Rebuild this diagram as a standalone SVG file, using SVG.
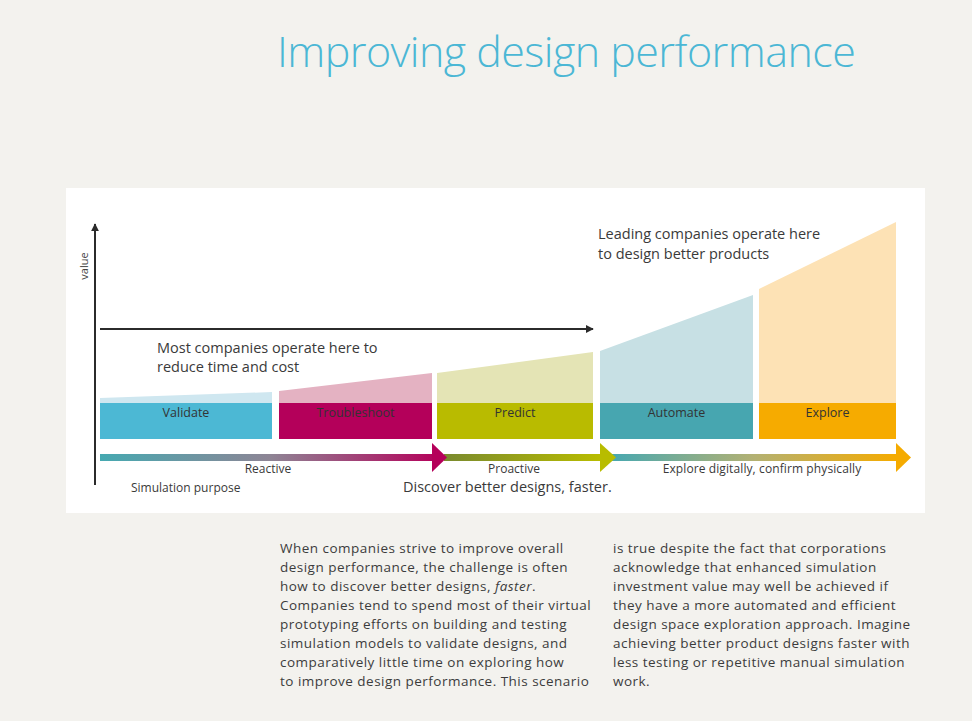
<svg xmlns="http://www.w3.org/2000/svg" width="972" height="721" viewBox="0 0 972 721">
<defs>
<style>
.t{font-family:"Open Sans","Noto Sans","Liberation Sans",sans-serif;fill:#3a3a3a}
.lbl{font-size:12.5px;text-anchor:middle;fill:#333}
.note{font-size:14.5px}
.sm{font-size:12px}
.body{font-size:13.5px;fill:#3c3c3c;letter-spacing:0.48px}
</style>
<linearGradient id="g1" gradientUnits="userSpaceOnUse" x1="100" y1="0" x2="440" y2="0">
<stop offset="0" stop-color="#46a9b1"/><stop offset="0.5" stop-color="#8e8595"/><stop offset="1" stop-color="#b5005a"/>
</linearGradient>
<linearGradient id="g2" gradientUnits="userSpaceOnUse" x1="445" y1="0" x2="600" y2="0">
<stop offset="0" stop-color="#7a8a2e"/><stop offset="1" stop-color="#b8bc00"/>
</linearGradient>
<linearGradient id="g3" gradientUnits="userSpaceOnUse" x1="612" y1="0" x2="896" y2="0">
<stop offset="0" stop-color="#48a8b0"/><stop offset="0.5" stop-color="#b3b173"/><stop offset="1" stop-color="#f5ab00"/>
</linearGradient>
<marker id="ah" viewBox="0 0 10 10" refX="9" refY="5" markerWidth="4" markerHeight="5" orient="auto" markerUnits="strokeWidth">
<path d="M0,0 L10,5 L0,10 Z" fill="#2b2b2b"/>
</marker>
</defs>
<rect width="972" height="721" fill="#f3f2ee"/>
<text class="t" x="277" y="67" style="font-size:43px;font-weight:300;fill:#4bb7d5;letter-spacing:-0.55px">Improving design performance</text>
<rect x="66" y="188" width="859" height="325" fill="#ffffff"/>

<g id="axis">
<line x1="95" y1="485" x2="95" y2="224" stroke="#2b2b2b" stroke-width="2" marker-end="url(#ah)"/>
<text class="t" transform="translate(88,266) rotate(-90)" style="font-size:11px;text-anchor:middle;fill:#444">value</text>
</g>

<g id="validate">
<polygon points="100,398 272,392 272,403 100,403" fill="#cfe7f0"/>
<rect x="100" y="403" width="172" height="36" fill="#4cb8d4"/>
<text class="t lbl" x="186" y="417">Validate</text>
</g>
<g id="troubleshoot">
<polygon points="279,391 432,373 432,403 279,403" fill="#e4b2c2"/>
<rect x="279" y="403" width="153" height="36" fill="#b4005a"/>
<text class="t lbl" x="355.5" y="417">Troubleshoot</text>
</g>
<g id="predict">
<polygon points="437,373 593,352 593,403 437,403" fill="#e4e4b5"/>
<rect x="437" y="403" width="156" height="36" fill="#b9bb00"/>
<text class="t lbl" x="515" y="417">Predict</text>
</g>
<g id="automate">
<polygon points="600,351 753,295 753,403 600,403" fill="#c7e0e4"/>
<rect x="600" y="403" width="153" height="36" fill="#47a6b0"/>
<text class="t lbl" x="676.5" y="417">Automate</text>
</g>
<g id="explore">
<polygon points="759,289 896,222 896,403 759,403" fill="#fde2b5"/>
<rect x="759" y="403" width="137" height="36" fill="#f6ab00"/>
<text class="t lbl" x="827.5" y="417">Explore</text>
</g>

<g id="connectors">
<line x1="100" y1="329" x2="593" y2="329" stroke="#2b2b2b" stroke-width="2" marker-end="url(#ah)"/>
<g id="flow3">
<rect x="612" y="454" width="285" height="7" fill="url(#g3)"/>
<polygon points="896,443 911,457.5 896,472" fill="#f5ab00"/>
</g>
<g id="flow2">
<rect x="444" y="454" width="157" height="7" fill="url(#g2)"/>
<polygon points="600,443 616,457.5 600,472" fill="#b8bc00"/>
</g>
<g id="flow1">
<rect x="100" y="454" width="333" height="7" fill="url(#g1)"/>
<polygon points="432,443 447,457.5 432,472" fill="#b5005a"/>
</g>
</g>

<g id="notes">
<text class="t note" x="157" y="353">Most companies operate here to</text>
<text class="t note" x="157" y="372">reduce time and cost</text>
<text class="t note" x="598" y="239">Leading companies operate here</text>
<text class="t note" x="598" y="259">to design better products</text>
<text class="t sm" x="268" y="473" text-anchor="middle">Reactive</text>
<text class="t sm" x="514" y="473" text-anchor="middle">Proactive</text>
<text class="t sm" x="762" y="473" text-anchor="middle" style="letter-spacing:0.1px">Explore digitally, confirm physically</text>
<text class="t sm" x="131" y="492">Simulation purpose</text>
<text class="t note" x="403" y="492">Discover better designs, faster.</text>
</g>

<g id="paragraph-left">
<text class="t body" x="280" y="553">When companies strive to improve overall</text>
<text class="t body" x="280" y="572">design performance, the challenge is often</text>
<text class="t body" x="280" y="591">how to discover better designs, <tspan font-style="italic">faster</tspan>.</text>
<text class="t body" x="280" y="610">Companies tend to spend most of their virtual</text>
<text class="t body" x="280" y="629">prototyping efforts on building and testing</text>
<text class="t body" x="280" y="648">simulation models to validate designs, and</text>
<text class="t body" x="280" y="667">comparatively little time on exploring how</text>
<text class="t body" x="280" y="686">to improve design performance. This scenario</text>
</g>
<g id="paragraph-right">
<text class="t body" x="613" y="553">is true despite the fact that corporations</text>
<text class="t body" x="613" y="572">acknowledge that enhanced simulation</text>
<text class="t body" x="613" y="591">investment value may well be achieved if</text>
<text class="t body" x="613" y="610">they have a more automated and efficient</text>
<text class="t body" x="613" y="629">design space exploration approach. Imagine</text>
<text class="t body" x="613" y="648">achieving better product designs faster with</text>
<text class="t body" x="613" y="667">less testing or repetitive manual simulation</text>
<text class="t body" x="613" y="686">work.</text>
</g>
</svg>
